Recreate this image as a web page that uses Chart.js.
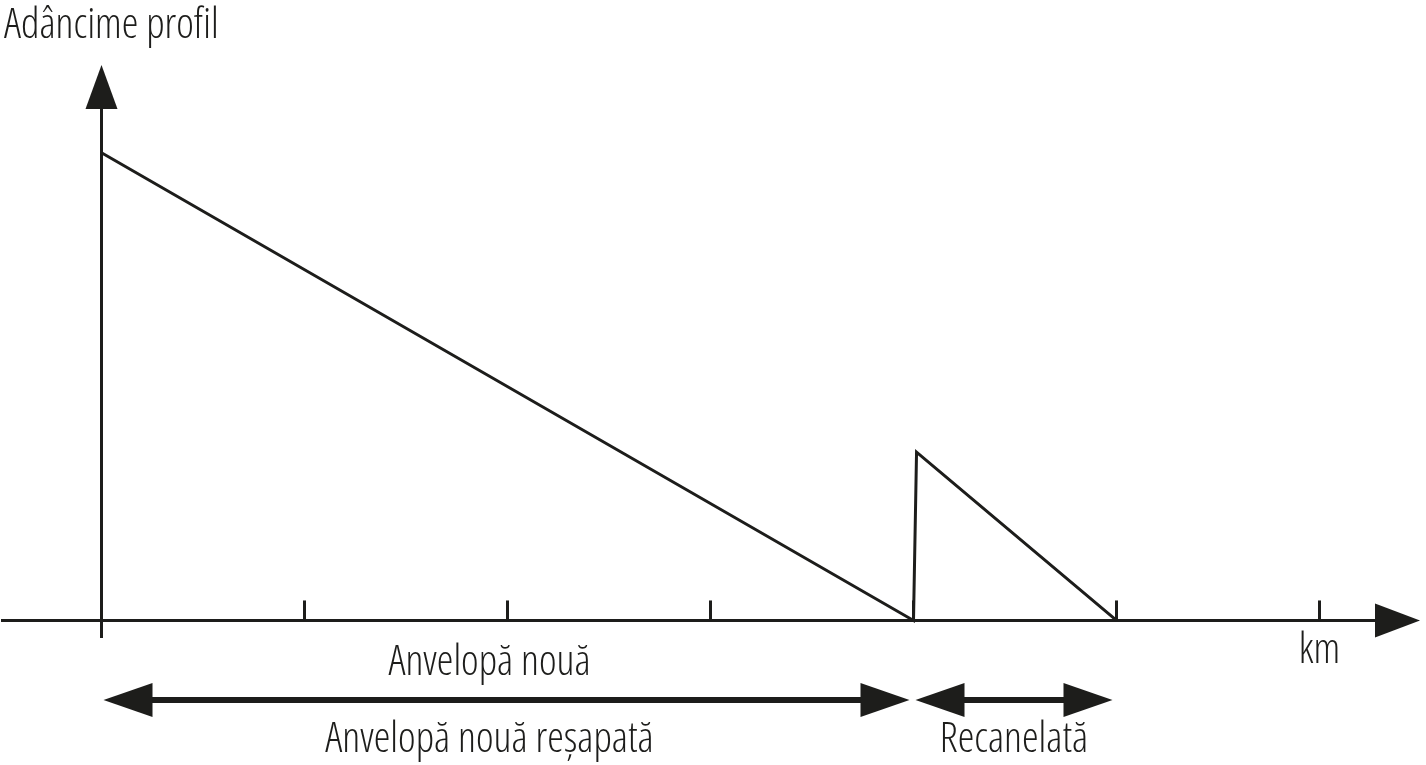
<!DOCTYPE html>
<html>
<head>
<meta charset="utf-8">
<script src="https://cdn.jsdelivr.net/npm/chart.js@4.4.1/dist/chart.umd.min.js"></script>
<style>
  html, body { margin: 0; padding: 0; background: #ffffff; }
  #wrap { width: 1426px; height: 765px; }
</style>
</head>
<body>
<div id="wrap"><canvas id="c" width="1426" height="765"></canvas></div>
<script>
// ---- data ----
const distanceKm = [0, 4, 4.015, 5];
const treadDepth = [8, 0, 2.88, 0];
const kmTicks = [0, 1, 2, 3, 4, 5, 6];
const yAxisTitle = "Adâncime profil";
const xAxisTitle = "km";
const phaseUpperLabels = ["Anvelopă nouă"];
const phaseLowerLabels = ["Anvelopă nouă reșapată", "Recanelată"];
const phaseStartKm = [0, 4];
const phaseEndKm = [4, 5];

const INK = "#1d1d1b";
const FONT = "'Open Sans', sans-serif";

function arrowHead(ctx, tipX, tipY, dirX, dirY, len, half) {
  const px = -dirY, py = dirX;
  const bx = tipX - dirX * len, by = tipY - dirY * len;
  ctx.beginPath();
  ctx.moveTo(tipX, tipY);
  ctx.lineTo(bx + px * half, by + py * half);
  ctx.lineTo(bx - px * half, by - py * half);
  ctx.closePath();
  ctx.fill();
}

function setFont(ctx, size) {
  ctx.font = "300 " + size + "px " + FONT;
  try { ctx.fontStretch = 'condensed'; } catch (e) {}
}

const diagramPlugin = {
  id: 'diagram',
  beforeDatasetsDraw(chart) {
    const ctx = chart.ctx;
    const xs = chart.scales.x, ys = chart.scales.y;
    const area = chart.chartArea;
    const y0 = ys.getPixelForValue(0);
    const x0 = xs.getPixelForValue(0);
    ctx.save();
    ctx.strokeStyle = INK;
    ctx.fillStyle = INK;
    ctx.lineWidth = 3;
    ctx.lineCap = 'butt';
    const xTip = area.right - 1;
    ctx.beginPath();
    ctx.moveTo(area.left + 1, y0);
    ctx.lineTo(xTip - 40, y0);
    ctx.stroke();
    arrowHead(ctx, xTip, y0, 1, 0, 45, 17);
    const yTip = area.top;
    ctx.beginPath();
    ctx.moveTo(x0, area.bottom);
    ctx.lineTo(x0, yTip + 40);
    ctx.stroke();
    arrowHead(ctx, x0, yTip, 0, -1, 44, 16);
    kmTicks.forEach(v => {
      if (v === 0) return;
      const px = xs.getPixelForValue(v);
      ctx.beginPath();
      ctx.moveTo(px, y0 - 20);
      ctx.lineTo(px, y0);
      ctx.stroke();
    });
    ctx.restore();
  },
  afterDatasetsDraw(chart) {
    const ctx = chart.ctx;
    const xs = chart.scales.x;
    const area = chart.chartArea;
    ctx.save();
    ctx.fillStyle = INK;
    ctx.strokeStyle = INK;
    setFont(ctx, 42);
    ctx.textAlign = 'left';
    ctx.textBaseline = 'alphabetic';
    ctx.fillText(yAxisTitle, 4, 38);
    ctx.textAlign = 'center';
    ctx.fillText(xAxisTitle, xs.getPixelForValue(kmTicks[kmTicks.length - 1]), 663);
    const arrowY = area.bottom + 62;
    ctx.lineWidth = 6;
    phaseStartKm.forEach((s, i) => {
      const a = xs.getPixelForValue(s) + 2;
      const b = xs.getPixelForValue(phaseEndKm[i]) - 4;
      ctx.beginPath();
      ctx.moveTo(a + 40, arrowY);
      ctx.lineTo(b - 40, arrowY);
      ctx.stroke();
      arrowHead(ctx, a, arrowY, -1, 0, 49, 17);
      arrowHead(ctx, b, arrowY, 1, 0, 49, 17);
      const mid = (a + b) / 2;
      const shift = i === 0 ? -17 : 0;
      setFont(ctx, 42);
      ctx.textAlign = 'center';
      if (phaseUpperLabels[i]) ctx.fillText(phaseUpperLabels[i], mid + shift, arrowY - 25);
      if (phaseLowerLabels[i]) ctx.fillText(phaseLowerLabels[i], mid + shift, arrowY + 52);
    });
    ctx.restore();
  }
};

new Chart(document.getElementById('c'), {
  type: 'scatter',
  data: {
    datasets: [{
      data: distanceKm.map((x, i) => ({ x: x, y: treadDepth[i] })),
      showLine: true,
      borderColor: INK,
      borderWidth: 3,
      pointRadius: 0,
      pointHoverRadius: 0,
      tension: 0,
      fill: false
    }]
  },
  options: {
    responsive: false,
    animation: false,
    devicePixelRatio: 1,
    layout: { padding: { left: 0, right: 5, top: 65, bottom: 127 } },
    plugins: { legend: { display: false }, tooltip: { enabled: false }, title: { display: false } },
    events: [],
    scales: {
      x: { type: 'linear', min: -0.5, max: 6.5, display: false },
      y: { type: 'linear', min: -0.3, max: 9.5, display: false }
    }
  },
  plugins: [diagramPlugin]
});
</script>
</body>
</html>
